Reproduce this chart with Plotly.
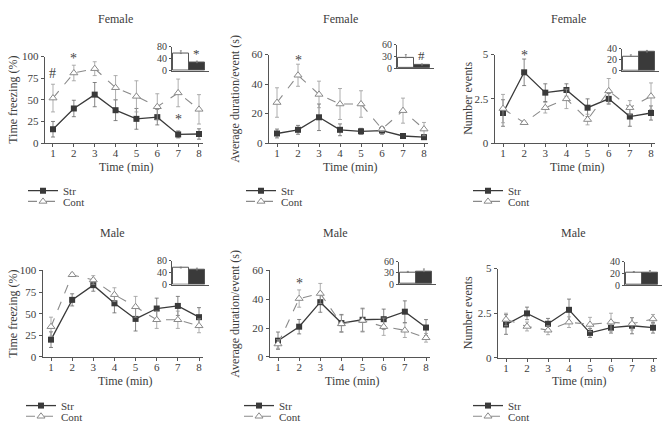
import plotly.graph_objects as go

minutes = [1, 2, 3, 4, 5, 6, 7, 8]
groups = ["Cont", "Str"]

# Female
f_freeze_str = [16, 40, 56, 38, 28, 30, 10, 10.5]
f_freeze_str_err = [9, 9.5, 14, 12, 12, 9, 4, 6]
f_freeze_cont = [52, 81, 86, 64, 54, 42, 58, 39]
f_freeze_cont_err = [16, 9, 8, 14, 18, 15, 16, 17]
f_freeze_total = [57, 27]
f_freeze_total_err = [9, 5]

f_dur_str = [6.5, 9, 17.5, 9, 8, 8.5, 4.8, 4]
f_dur_str_err = [3, 3, 9, 4, 2, 2.5, 1.5, 1.5]
f_dur_cont = [27.5, 46, 33, 26.5, 26.5, 9.5, 22, 9.5]
f_dur_cont_err = [10, 7.5, 9, 10.5, 9, 1.5, 8.5, 4.5]
f_dur_total = [27, 8]
f_dur_total_err = [8, 3]

f_num_str = [1.7, 4.0, 2.85, 3.0, 2.0, 2.5, 1.5, 1.7]
f_num_str_err = [0.75, 0.75, 0.5, 0.35, 0.5, 0.3, 0.55, 0.4]
f_num_cont = [1.95, 1.15, 2.0, 2.5, 1.33, 2.95, 2.0, 2.65]
f_num_cont_err = [0.8, 0.1, 0.3, 0.55, 0.3, 0.7, 0.4, 0.75]
f_num_total = [26, 34]
f_num_total_err = [3, 3]

# Male
m_freeze_str = [20, 66, 83, 62, 44, 56, 59, 46]
m_freeze_str_err = [9, 7, 7, 11, 14, 12, 11, 11]
m_freeze_cont = [35, 95, 89, 72, 58, 43, 43, 36]
m_freeze_cont_err = [11, 2, 5, 8, 12, 10, 10, 8]
m_freeze_total = [55.5, 49]
m_freeze_total_err = [3, 6]

m_dur_str = [11.3, 21, 38, 23.5, 25.8, 26.2, 31.4, 20.4]
m_dur_str_err = [6, 5, 7, 6, 8, 7, 7.5, 5.5]
m_dur_cont = [9, 40.5, 44, 23, 25.3, 21, 18.5, 13.3]
m_dur_cont_err = [3, 6, 7, 6, 8, 6, 5, 3]
m_dur_total = [31, 33.5]
m_dur_total_err = [3, 7]

m_num_str = [1.87, 2.49, 1.91, 2.69, 1.4, 1.69, 1.8, 1.69]
m_num_str_err = [0.55, 0.35, 0.3, 0.6, 0.25, 0.3, 0.45, 0.3]
m_num_cont = [2.15, 1.76, 1.55, 2.0, 1.87, 2.0, 1.91, 2.18]
m_num_cont_err = [0.35, 0.25, 0.25, 0.3, 0.4, 0.5, 0.35, 0.25]
m_num_total = [21.7, 21.7]
m_num_total_err = [1.5, 3]

# significance marks: (minute, y, text)
f_freeze_marks = [(1, 80, "#"), (2, 98, "*"), (7, 27, "*")]
f_dur_marks = [(2, 56, "*")]
f_num_marks = [(2, 4.95, "*")]
m_freeze_marks = [(2, 108, "*")]
m_dur_marks = [(2, 51, "*")]
m_num_marks = []
f_freeze_inset_marks = [(1, 58, "*")]
f_dur_inset_marks = [(1, 32, "#")]

W, H = 670, 432
FONT = "Liberation Serif"
TXT = "#3c3c3c"
DARK = "#3a3a3a"
GREY = "#8a8a8a"


def fx(p):
    return p / W


def fy(p):
    return 1 - p / H


panels = [
    dict(title="Female", ylab="Time freezing (%)", s=f_freeze_str, se=f_freeze_str_err,
         c=f_freeze_cont, ce=f_freeze_cont_err, tot=f_freeze_total, tote=f_freeze_total_err,
         marks=f_freeze_marks, imarks=f_freeze_inset_marks, ymax=100, ticks=[0, 25, 50, 75, 100],
         itv=[0, 40, 80], imax=80,
         box=(53, 199, 141, 52), ibox=(172, 66.7, 41.7), tx=115, ty=13, labx=13,
         xlab=166, leg=(63, 190, 201)),
    dict(title="Female", ylab="Average duration/event (s)", s=f_dur_str, se=f_dur_str_err,
         c=f_dur_cont, ce=f_dur_cont_err, tot=f_dur_total, tote=f_dur_total_err,
         marks=f_dur_marks, imarks=f_dur_inset_marks, ymax=60, ticks=[0, 20, 40, 60],
         itv=[0, 30, 60], imax=60,
         box=(277, 424, 141, 50), ibox=(397, 64, 40), tx=340, ty=13, labx=235,
         xlab=166, leg=(281, 190, 201)),
    dict(title="Female", ylab="Number events", s=f_num_str, se=f_num_str_err,
         c=f_num_cont, ce=f_num_cont_err, tot=f_num_total, tote=f_num_total_err,
         marks=f_num_marks, imarks=[], ymax=5, ticks=[0, 2.5, 5],
         itv=[0, 20, 40], imax=40,
         box=(503, 651, 141, 50), ibox=(622, 66.5, 44), tx=568, ty=13, labx=468,
         xlab=166, leg=(508, 190, 201)),
    dict(title="Male", ylab="Time freezing (%)", s=m_freeze_str, se=m_freeze_str_err,
         c=m_freeze_cont, ce=m_freeze_cont_err, tot=m_freeze_total, tote=m_freeze_total_err,
         marks=m_freeze_marks, imarks=[], ymax=100, ticks=[0, 25, 50, 75, 100],
         itv=[0, 40, 80], imax=80,
         box=(51, 199, 361, 272), ibox=(172, 286.5, 262), tx=112, ty=233, labx=13,
         xlab=386, leg=(61, 411, 422)),
    dict(title="Male", ylab="Average duration/event (s)", s=m_dur_str, se=m_dur_str_err,
         c=m_dur_cont, ce=m_dur_cont_err, tot=m_dur_total, tote=m_dur_total_err,
         marks=m_dur_marks, imarks=[], ymax=60, ticks=[0, 20, 40, 60],
         itv=[0, 30, 60], imax=60,
         box=(278, 426, 361, 272), ibox=(399, 286, 263), tx=335, ty=233, labx=235,
         xlab=386, leg=(279, 411, 422)),
    dict(title="Male", ylab="Number events", s=m_num_str, se=m_num_str_err,
         c=m_num_cont, ce=m_num_cont_err, tot=m_num_total, tote=m_num_total_err,
         marks=m_num_marks, imarks=[], ymax=5, ticks=[0, 2.5, 5],
         itv=[0, 20, 40], imax=40,
         box=(506, 653, 362, 270), ibox=(625, 287, 263), tx=573, ty=233, labx=468,
         xlab=386, leg=(508, 411, 422)),
]

fig = go.Figure()
layout = {}
annotations = []


def txt(size, color=TXT):
    return dict(family=FONT, size=size, color=color)


for i, p in enumerate(panels):
    n = 2 * i + 1
    m = 2 * i + 2
    x1, x8, y0, ytop = p["box"]
    unit = (x8 - x1) / 7.0
    xa, ya = f"x{n}", f"y{n}"
    xia, yia = f"x{m}", f"y{m}"
    leg_s = f"legend{2 * i + 1}" if i > 0 else "legend"
    leg_c = f"legend{2 * i + 2}"

    fig.add_trace(go.Scatter(
        x=minutes, y=p["s"], name="Str", mode="lines+markers",
        line=dict(color=DARK, width=1.3),
        marker=dict(symbol="square", size=6, color=DARK),
        error_y=dict(type="data", array=p["se"], color="#666", thickness=0.8, width=2),
        xaxis=xa, yaxis=ya, legend=leg_s, cliponaxis=False))
    fig.add_trace(go.Scatter(
        x=minutes, y=p["c"], name="Cont", mode="lines+markers",
        line=dict(color=GREY, width=1.1, dash="dash"),
        marker=dict(symbol="triangle-up", size=7, color="white",
                    line=dict(color=GREY, width=1)),
        error_y=dict(type="data", array=p["ce"], color="#9a9a9a", thickness=0.8, width=2),
        xaxis=xa, yaxis=ya, legend=leg_c, cliponaxis=False))

    # inset bars (Cont, Str)
    fig.add_trace(go.Bar(
        x=[0, 1], y=p["tot"], width=1,
        marker=dict(color=["white", DARK], line=dict(color="#555", width=1)),
        error_y=dict(type="data", array=p["tote"], arrayminus=[0, 0],
                     color="#777", thickness=0.8, width=1),
        xaxis=xia, yaxis=yia, showlegend=False))

    layout[f"xaxis{n}"] = dict(
        domain=[fx(x1 - 0.4 * unit), fx(x8 + 0.2 * unit)], range=[0.6, 8.2],
        anchor=ya, showline=True, linecolor="#555", linewidth=1,
        ticks="outside", ticklen=3, tickcolor="#555", tickvals=minutes,
        ticklabelstandoff=-3,
        showgrid=False, zeroline=False, tickfont=txt(11))
    layout[f"yaxis{n}"] = dict(
        domain=[fy(y0), fy(ytop)], range=[0, p["ymax"]], anchor=xa,
        showline=True, linecolor="#555", linewidth=1,
        ticks="outside", ticklen=3, tickcolor="#555", tickvals=p["ticks"],
        showgrid=False, zeroline=False, tickfont=txt(11))

    ix0, iy0, iytop = p["ibox"]
    layout[f"xaxis{m}"] = dict(domain=[fx(ix0), fx(ix0 + 37)], range=[-0.55, 1.75],
                               anchor=yia, showline=True, linecolor="#555", linewidth=1,
                               showticklabels=False, ticks="", showgrid=False, zeroline=False)
    layout[f"yaxis{m}"] = dict(domain=[fy(iy0), fy(iytop)], range=[0, p["imax"]], anchor=xia,
                               showline=True, linecolor="#555", linewidth=1,
                               ticks="outside", ticklen=2, tickcolor="#555", tickvals=p["itv"],
                               showgrid=False, zeroline=False, tickfont=txt(10))

    lx, ly_s, ly_c = p["leg"]
    for name, ly in ((leg_s, ly_s), (leg_c, ly_c)):
        layout[name] = dict(x=fx(lx - 40), y=fy(ly), xanchor="left", yanchor="middle",
                            font=txt(11), bgcolor="rgba(0,0,0,0)", itemwidth=30)

    annotations.append(dict(text=p["title"], x=fx(p["tx"]), y=fy(p["ty"]), xref="paper",
                            yref="paper", showarrow=False, xanchor="center", yanchor="middle",
                            font=txt(12)))
    annotations.append(dict(text=p["ylab"], x=fx(p["labx"]), y=fy((y0 + ytop) / 2),
                            xref="paper", yref="paper", showarrow=False, textangle=-90,
                            xanchor="center", yanchor="middle", font=txt(12)))
    annotations.append(dict(text="Time (min)", x=fx((x1 + x8) / 2), y=fy(p["xlab"]),
                            xref="paper", yref="paper", showarrow=False,
                            xanchor="center", yanchor="middle", font=txt(12)))
    for mx, my, mt in p["marks"]:
        annotations.append(dict(text=mt, x=mx, y=my, xref=xa, yref=ya, showarrow=False,
                                yanchor="middle", font=txt(14, "#444")))
    for mx, my, mt in p["imarks"]:
        annotations.append(dict(text=mt, x=mx, y=my, xref=xia, yref=yia, showarrow=False,
                                yanchor="middle", font=txt(13, "#444")))

fig.update_layout(
    width=W, height=H, margin=dict(l=0, r=0, t=0, b=0),
    paper_bgcolor="white", plot_bgcolor="white",
    bargap=0, annotations=annotations, **layout)

fig.write_html("out.html", config={"displayModeBar": False},
               post_script="document.body.style.margin='0';")
